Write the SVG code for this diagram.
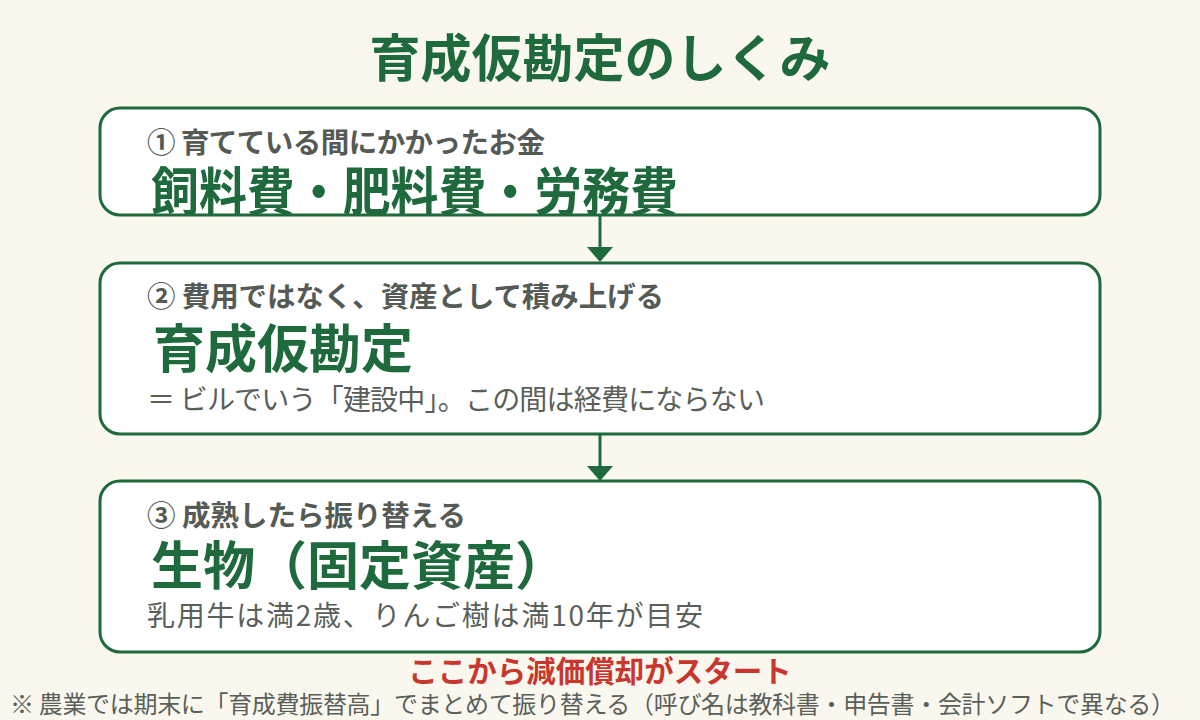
<svg xmlns="http://www.w3.org/2000/svg" width="1200" height="720" viewBox="0 0 1200 720">
<defs>
<style>
.box{fill:#ffffff;stroke:#1f6a3c;stroke-width:3}
.t{font-family:"Noto Sans CJK JP","Noto Sans",sans-serif}
.title{font-size:51px;font-weight:700;fill:#1f6a3c}
.head{font-size:28.5px;font-weight:700;fill:#555a55}
.big{font-size:52px;font-weight:700;fill:#1f6a3c}
.sub{font-size:28px;font-weight:400;fill:#5a5f5a}
.red{font-size:29.5px;font-weight:700;fill:#c8372d}
.note{font-size:24px;font-weight:400;fill:#5a5f5a}
.conn{stroke:#1f6a3c;stroke-width:3;fill:none}
</style>
</defs>
<rect width="1200" height="720" fill="#faf7ef"/>
<text class="t title" x="600" y="77" text-anchor="middle">育成仮勘定のしくみ</text>
<g id="connectors">
<line class="conn" x1="600" y1="215" x2="600" y2="248"/>
<polygon points="587,247 613,247 600,262" fill="#1f6a3c"/>
<line class="conn" x1="600" y1="434" x2="600" y2="467"/>
<polygon points="587,466 613,466 600,481" fill="#1f6a3c"/>
</g>
<g id="node1">
<rect class="box" x="100" y="108" width="1000" height="107" rx="20"/>
<text class="t head" x="147" y="153" textLength="398">① 育てている間にかかったお金</text>
<text class="t big" x="151" y="211" textLength="527" lengthAdjust="spacingAndGlyphs">飼料費・肥料費・労務費</text>
</g>
<g id="node2">
<rect class="box" x="100" y="263" width="1000" height="171" rx="20"/>
<text class="t head" x="147" y="307" textLength="517">② 費用ではなく、資産として積み上げる</text>
<text class="t big" x="153" y="368">育成仮勘定</text>
<text class="t sub" x="147" y="410" textLength="618">＝ ビルでいう「建設中」。この間は経費にならない</text>
</g>
<g id="node3">
<rect class="box" x="100" y="481" width="1000" height="171" rx="20"/>
<text class="t head" x="147" y="526" textLength="319">③ 成熟したら振り替える</text>
<text class="t big" x="151" y="585">生物（固定資産）</text>
<text class="t sub" x="147" y="626" textLength="556">乳用牛は満2歳、りんご樹は満10年が目安</text>
</g>
<text class="t red" x="600" y="682" text-anchor="middle">ここから減価償却がスタート</text>
<text class="t note" x="10" y="713" textLength="1165">※ 農業では期末に「育成費振替高」でまとめて振り替える（呼び名は教科書・申告書・会計ソフトで異なる）</text>
</svg>
